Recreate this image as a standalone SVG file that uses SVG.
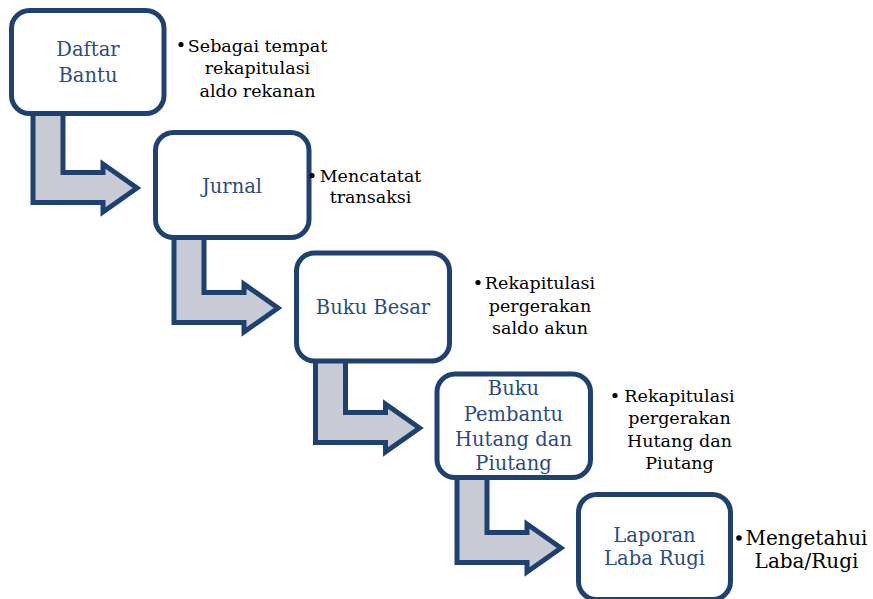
<svg xmlns="http://www.w3.org/2000/svg" width="873" height="599" viewBox="0 0 873 599">
<defs>
<style>
.box{fill:#fff;stroke:#1F4170;stroke-width:5}
.arr{fill:#C8CBD4;stroke:#1F4170;stroke-width:5;stroke-linejoin:miter}
.bt{font-family:"DejaVu Serif","Liberation Serif",serif;font-size:19.5px;fill:#2B4C7E;text-anchor:middle}
.nt{font-family:"DejaVu Serif","Liberation Serif",serif;font-size:17.5px;fill:#000;text-anchor:middle}
.dot{fill:#000}
</style>
<path id="arrow" d="M33,106 L63,106 L63,172.5 L103,172.5 L103,164 L137,188 L103,212 L103,202.5 L33,202.5 Z"/>
</defs>
<rect width="873" height="599" fill="#fff"/>
<g id="connectors">
<use href="#arrow" class="arr"/>
<use href="#arrow" class="arr" transform="translate(141,120)"/>
<use href="#arrow" class="arr" transform="translate(282.5,240)"/>
<use href="#arrow" class="arr" transform="translate(424,360)"/>
</g>
<g id="node-daftar-bantu">
<rect class="box" x="11.5" y="10.5" width="152.5" height="103" rx="18"/>
<text class="bt" x="88" y="56">Daftar</text>
<text class="bt" x="88" y="82">Bantu</text>
</g>
<g id="node-jurnal">
<rect class="box" x="155.5" y="132.5" width="153.5" height="105" rx="18"/>
<text class="bt" x="232" y="193">Jurnal</text>
</g>
<g id="node-buku-besar">
<rect class="box" x="296.5" y="253" width="153" height="108" rx="18"/>
<text class="bt" x="373" y="314">Buku Besar</text>
</g>
<g id="node-buku-pembantu">
<rect class="box" x="437" y="374" width="153.5" height="103.5" rx="18"/>
<text class="bt" x="513.5" y="395">Buku</text>
<text class="bt" x="513.5" y="421">Pembantu</text>
<text class="bt" x="513.5" y="446">Hutang dan</text>
<text class="bt" x="513.5" y="470">Piutang</text>
</g>
<g id="node-laporan">
<rect class="box" x="578.5" y="494.5" width="152" height="105" rx="18"/>
<text class="bt" x="654.5" y="541.5">Laporan</text>
<text class="bt" x="654.5" y="565">Laba Rugi</text>
</g>
<g id="note-1">
<circle class="dot" cx="181" cy="44.5" r="2.6"/>
<text class="nt" x="257.5" y="51.5">Sebagai tempat</text>
<text class="nt" x="257.5" y="74">rekapitulasi</text>
<text class="nt" x="257.5" y="96.5">aldo rekanan</text>
</g>
<g id="note-2">
<circle class="dot" cx="312" cy="175.5" r="2.6"/>
<text class="nt" x="370.5" y="182">Mencatatat</text>
<text class="nt" x="370.5" y="203">transaksi</text>
</g>
<g id="note-3">
<circle class="dot" cx="478" cy="282.5" r="2.6"/>
<text class="nt" x="540" y="289">Rekapitulasi</text>
<text class="nt" x="540" y="311.5">pergerakan</text>
<text class="nt" x="540" y="334">saldo akun</text>
</g>
<g id="note-4">
<circle class="dot" cx="615" cy="395.5" r="2.6"/>
<text class="nt" x="679.5" y="402">Rekapitulasi</text>
<text class="nt" x="679.5" y="424">pergerakan</text>
<text class="nt" x="679.5" y="446.5">Hutang dan</text>
<text class="nt" x="679.5" y="468.5">Piutang</text>
</g>
<g id="note-5">
<circle class="dot" cx="739" cy="538" r="2.8"/>
<text class="nt" x="806.5" y="545" style="font-size:20px">Mengetahui</text>
<text class="nt" x="806.5" y="568" style="font-size:20px">Laba/Rugi</text>
</g>
</svg>
